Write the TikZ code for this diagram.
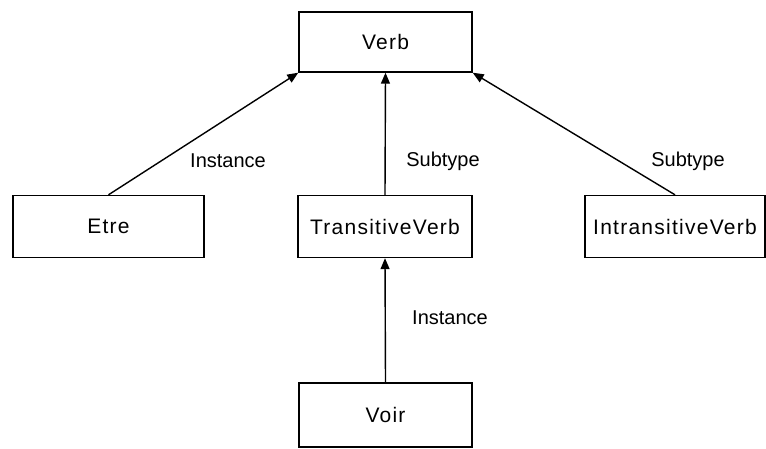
\documentclass[tikz,border=0pt]{standalone}
\usepackage{fontspec}
\setmainfont{Liberation Sans}
\usetikzlibrary{arrows.meta}

\tikzset{
  cls/.style={draw, line width=1.4pt, inner sep=0pt,
    font=\fontsize{21}{25}\selectfont\addfontfeature{LetterSpace=6}},
  rel/.style={line width=1.4pt, -{Triangle[length=11pt,width=9pt]}},
  lbl/.style={font=\fontsize{20}{24}\selectfont, inner sep=0pt}
}

\begin{document}
\begin{tikzpicture}[x=1pt,y=-1pt]
            \useasboundingbox (0,0) rectangle (766,448);

            \node[cls, minimum width=173pt, minimum height=60pt] (verb) at (385.5,42) {Verb};
            \node[cls, minimum width=191pt, minimum height=62pt] (etre) at (108.5,226.5) {Etre};
            \node[cls, minimum width=174pt, minimum height=62pt] (trans) at (385,226.5) {TransitiveVerb};
            \node[cls, minimum width=180pt, minimum height=62pt] (intrans) at (675,226.5) {IntransitiveVerb};
            \node[cls, minimum width=173pt, minimum height=64pt] (voir) at (385.5,415) {Voir};

            \draw[rel] (etre.north) -- (verb.south west);
            \draw[rel] (trans.north) -- (verb.south);
            \draw[rel] (intrans.north) -- (verb.south east);
            \draw[rel] (voir.north) -- (trans.south);

            \node[lbl] (l1) at (228,161) {Instance};
            \node[lbl] (l2) at (443,161) {Subtype};
            \node[lbl] (l3) at (688,161) {Subtype};
            \node[lbl] (l4) at (450,318) {Instance};
        \end{tikzpicture}
\end{document}
